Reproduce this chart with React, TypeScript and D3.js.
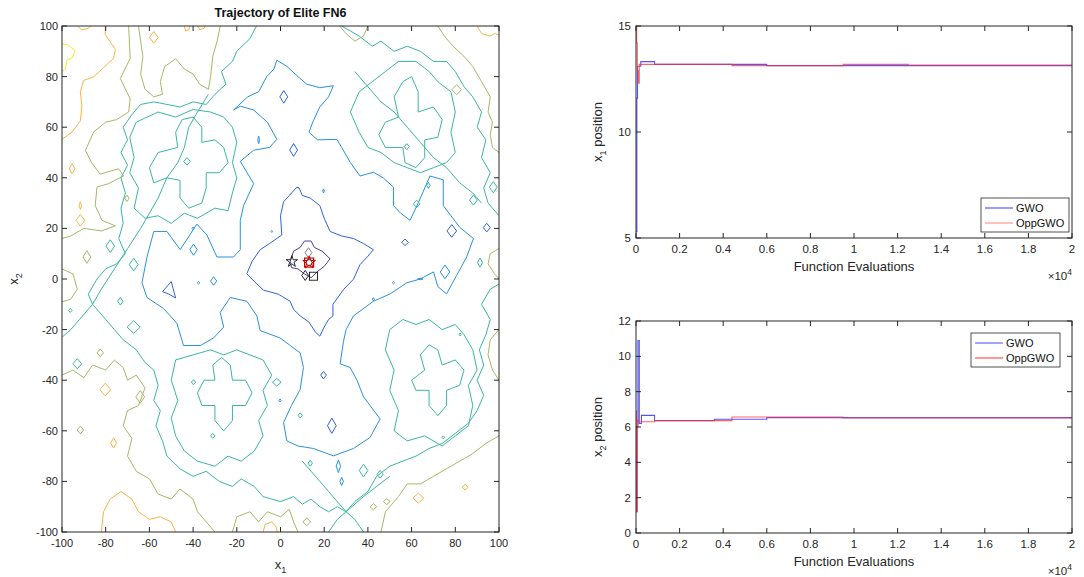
import React from "react";
import * as d3 from "d3";

const FONT = "'Liberation Sans', Arial, Helvetica, sans-serif";
const AX = "#262626";

// ---------- contour plot data (data coordinates) ----------
const contourTicks = [-100, -80, -60, -40, -20, 0, 20, 40, 60, 80, 100];
const levelColors = ["#4b3f9b", "#2f63da", "#2a91dc", "#3ab6a2", "#a5b866", "#f6b447", "#f2ee2b"];

type Pt = [number, number];
type Line = { closed: boolean; pts: Pt[] };
const loop = (cx: number, cy: number, rx: number, ry: number): Line => ({ closed: true, pts: [[cx - rx, cy], [cx, cy + ry], [cx + rx, cy], [cx, cy - ry]] });

const navyLines: Line[] = [
  { closed: true, pts: [[4.5, 7], [6, 11], [9, 12.5], [11, 15], [14, 15], [15.5, 12.5], [19, 11], [22.7, 8], [20, 5], [17, 3], [14, 0.5], [11, 2], [8, 4], [5, 4.5]] },
];
const blueLines: Line[] = [
  { closed: true, pts: [[7.5, 36.3], [4, 33], [1.4, 30.5], [0, 25], [0.6, 17.4], [-5, 14], [-9.3, 11.6], [-13, 7], [-15.4, 2.1], [-12, -1], [-7.8, -4.4], [-1, -6], [4.4, -8.8], [6, -12], [9, -14.6], [13, -17], [16, -21], [18, -22.6], [20, -19], [22, -16], [24, -14.6], [24, -10], [25, -8.8], [29, -4], [33.4, -0.1], [36.4, 5.7], [40, 9], [42.5, 11.6], [38, 14], [33.4, 16], [28, 17], [22.7, 18.8], [20, 24], [18, 29], [13.6, 32], [10, 33], [8.5, 36]] },
  loop(1.5, 72, 1.8, 2.5), loop(6, 51, 1.8, 2.5),
  { closed: true, pts: [[-54, -5], [-50, -1], [-48, -7.5], [-51, -6]] },
  loop(78.4, 19, 2.2, 2.5), loop(57, 14.5, 1.5, 1.3), loop(23.5, -58, 2, 3), loop(19.7, -38, 1.3, 1.5), loop(94.4, 20.3, 1.6, 1.7),
];
const lightBlueLines: Line[] = [
  { closed: true, pts: [[-21.5, 66.8], [-15, 72], [-10, 74], [-6.3, 80], [-3, 83], [-1.7, 86.5], [3, 84], [8, 80], [12, 77], [18, 75.6], [24.2, 76.4], [22, 72], [18, 68], [15, 62.5], [13, 58], [17, 55], [25.8, 55.2], [28, 52], [32, 46], [36.4, 40.7], [42.5, 42.2], [47, 40], [51.7, 36.3], [51.7, 29], [55, 26], [59.3, 23.2], [63, 30], [68.4, 40.7], [74.5, 39.2], [74.5, 29], [78, 25], [82.2, 20.3], [88.3, 16], [85.2, 8.7], [80.6, 1.4], [76, -5.9], [72, -3], [70, 2.8], [64, 0], [57.8, -1.5], [50.2, -5.9], [42.5, -8.8], [33.4, -14.6], [30, -20], [28.8, -24.8], [27.3, -33.5], [31.9, -35], [35, -40], [38, -46.6], [45.6, -55.3], [41, -62.6], [33.4, -67], [24.2, -69.9], [15.1, -67], [8, -66], [2.9, -64], [1.4, -56.8], [5, -50], [9, -43.7], [10.5, -35], [9, -29.2], [4, -26], [-0.2, -23.3], [-9.3, -20.4], [-10.8, -14.6], [-15.4, -8.8], [-23, -7.3], [-27.6, -13.2], [-26, -19], [-30.6, -23.3], [-36.7, -26.3], [-44.4, -26.3], [-47.4, -17.5], [-53.5, -11.7], [-61.1, -7.3], [-63.4, -1.5], [-61.1, 8.7], [-58, 18.8], [-52, 18.8], [-45.9, 11.6], [-38.3, 21.7], [-33.7, 17.4], [-29.1, 8.7], [-21.5, 8.7], [-18.4, 11.6], [-18.4, 23.2], [-16.9, 29], [-12.3, 37.7], [-18.4, 46.5], [-12.3, 50.9], [-5, 52], [-1.7, 55.2], [-6, 62], [-12.3, 66.8], [-18.4, 68.3]] },
  loop(-39.8, 11.6, 1.7, 2.2), loop(75.3, 2.8, 2.2, 2.7), loop(-30.6, -0.8, 1.4, 1.7),
  loop(26.5, -74, 1, 2.5), loop(28, -80, 0.8, 1.6), loop(-10, 55, 0.4, 1.5),
  loop(-37.5, -1.5, 0.6, 0.5), loop(-40, 20, 0.5, 0.5), loop(-4, 18.8, 0.4, 0.4), loop(19.7, 34.8, 0.4, 0.8),
  loop(51.7, -1.5, 0.5, 0.4), loop(42.5, -8, 0.5, 0.6), loop(64, 0, 1.2, 0.3), loop(-0.2, -48, 0.5, 0.6),
];
const tealLines: Line[] = [
  // outer ring
  { closed: false, pts: [[-11, 100], [-14, 95], [-20, 90], [-22, 86], [-27, 82], [-25, 77], [-30, 73], [-34, 69], [-40, 70], [-46, 68], [-52, 69], [-58, 70], [-64, 69], [-68, 65], [-72, 60], [-70, 55], [-73, 50], [-70, 45], [-73, 40], [-71, 34], [-73, 28], [-72, 22], [-74, 16], [-71, 10], [-75, 6], [-80, 4], [-84, 0], [-88, -6], [-86, -10], [-80, -16], [-76, -20], [-72, -24], [-66, -28], [-62, -33], [-58, -36], [-56, -42], [-58, -48], [-55, -52], [-57, -58], [-54, -64], [-52, -70], [-46, -75], [-40, -78], [-34, -76], [-28, -80], [-22, -82], [-18, -79], [-12, -82], [-8, -86], [0, -88], [6, -86], [10, -89], [14, -87], [18, -90], [22, -92], [26, -90], [30, -92], [34, -88], [40, -84], [44, -78], [50, -74], [56, -72], [62, -70], [68, -67], [74, -65], [80, -61], [86, -57], [90, -52], [93, -46], [90, -40], [93, -34], [91, -28], [94, -22], [96, -16], [92, -10], [96, -4], [100, -2]] },
  { closed: false, pts: [[100, 25], [95, 30], [93, 36], [96, 42], [92, 48], [94, 55], [90, 60], [92, 66], [88, 72], [84, 76], [80, 82], [76, 86], [70, 86], [64, 90], [58, 92], [52, 90], [46, 94], [42, 92], [36, 96], [32, 98], [28, 100]] },
  // diagonal crossing lines
  { closed: false, pts: [[-33, 73], [-38, 66], [-42, 60], [-44, 52], [-47, 46], [-52, 40], [-56, 32], [-60, 26], [-64, 20], [-70, 12], [-76, 4], [-82, -4], [-86, -10], [-92, -16], [-96, -20], [-100, -23]] },
  { closed: false, pts: [[10, -72], [14, -76], [18, -80], [22, -84], [26, -88], [30, -92], [34, -95], [38, -100]] },
  { closed: false, pts: [[50, -78], [44, -82], [38, -86], [30, -92], [26, -95], [22, -100]] },
  { closed: false, pts: [[34, 82], [40, 76], [46, 70], [52, 66], [58, 60], [64, 54], [70, 48], [76, 44], [82, 38], [88, 34], [92, 30]] },
  // top-left cells
  { closed: true, pts: [[-47, 52], [-48, 58], [-45, 63], [-40, 64], [-36, 60], [-36, 54], [-30, 55], [-26, 52], [-24, 46], [-28, 42], [-34, 42], [-34, 36], [-36, 30], [-42, 28], [-46, 32], [-46, 39], [-52, 40], [-58, 38], [-60, 44], [-56, 50]] },
  { closed: true, pts: [[-66, 62], [-69, 56], [-67, 48], [-69, 42], [-65, 36], [-67, 28], [-62, 24], [-56, 25], [-50, 22], [-44, 26], [-38, 24], [-30, 28], [-24, 27], [-22, 34], [-20, 40], [-22, 46], [-20, 54], [-22, 60], [-26, 64], [-32, 66], [-40, 67], [-48, 64], [-56, 66]] },
  // top-right cells
  { closed: true, pts: [[54, 64], [52, 72], [56, 78], [60, 80], [63, 74], [63, 66], [70, 68], [74, 63], [72, 56], [66, 55], [66, 48], [62, 44], [57, 46], [56, 52], [48, 52], [45, 57], [48, 62]] },
  { closed: true, pts: [[36, 58], [32, 66], [36, 74], [42, 78], [48, 82], [54, 86], [62, 86], [68, 82], [72, 78], [78, 74], [80, 66], [78, 58], [80, 50], [76, 46], [70, 44], [64, 42], [58, 44], [52, 46], [46, 50], [40, 52]] },
  // bottom-left cells
  { closed: true, pts: [[-30, -40], [-31, -34], [-27, -31], [-23, -34], [-22, -40], [-16, -40], [-13, -45], [-16, -50], [-22, -50], [-22, -56], [-26, -60], [-30, -56], [-30, -50], [-36, -50], [-38, -45], [-35, -40]] },
  { closed: true, pts: [[-48, -32], [-50, -40], [-47, -48], [-50, -55], [-48, -62], [-44, -68], [-38, -72], [-30, -74], [-24, -70], [-18, -72], [-12, -68], [-8, -62], [-10, -56], [-6, -50], [-8, -44], [-4, -38], [-8, -32], [-14, -30], [-20, -28], [-26, -30], [-32, -28], [-40, -30]] },
  // bottom-right cells
  { closed: true, pts: [[66, -36], [64, -30], [68, -26], [72, -28], [74, -34], [80, -32], [84, -36], [82, -42], [76, -44], [76, -50], [72, -54], [68, -50], [68, -44], [62, -44], [60, -40]] },
  { closed: true, pts: [[50, -20], [48, -28], [52, -36], [50, -44], [54, -52], [52, -60], [58, -64], [66, -62], [74, -66], [80, -62], [86, -58], [88, -50], [86, -42], [90, -36], [88, -28], [84, -22], [80, -18], [74, -20], [68, -16], [62, -18], [56, -16]] },
  // small islands
  loop(-42.8, 46.5, 1.5, 1.5), loop(57.8, 52.3, 1.2, 1.2), loop(62.3, 29.7, 1.5, 1.5), loop(67.7, 37, 0.8, 1.2),
  loop(88.3, 31.2, 1.8, 2), loop(91.3, 6.5, 1.2, 1.8), loop(97.4, 36.3, 1.8, 2.2), loop(82.2, -21.9, 0.5, 0.6),
  loop(74.5, -62.6, 0.6, 0.6), loop(13.6, -72.8, 1, 1.2), loop(38, -75.7, 2, 2.5), loop(45.6, -77.2, 1.5, 1.5),
  loop(-39.8, -40.8, 1, 1), loop(-1.7, -40.8, 2, 1.5), loop(9, -53.9, 1, 1), loop(-67.2, 5.7, 2, 2.5),
  loop(-77.9, 13, 2, 2.5), loop(-73.3, -8.8, 1.2, 1.5), loop(-93, -33.5, 2, 2), loop(-96.2, -12.4, 0.8, 0.8),
  loop(-67.2, -19, 3, 2.5), loop(-31, -62, 1, 1),
];
const oliveLines: Line[] = [
  { closed: false, pts: [[-69.5, 100], [-68.8, 87.2], [-73.3, 79.2], [-68.8, 71.2], [-69.5, 66], [-75, 63], [-80, 62], [-85.5, 58.1], [-89.3, 50.8], [-86.3, 45.8], [-82.5, 41.4], [-74.1, 43.6], [-71.8, 40.7], [-78.7, 37.7], [-84, 36.3], [-84.8, 29], [-81.7, 23.2], [-75.6, 21], [-82, 19], [-90, 20], [-96, 17], [-100, 16]] },
  { closed: false, pts: [[-27.6, 100], [-29, 94], [-31, 88], [-32, 80], [-33, 75], [-37, 77], [-40, 81], [-44, 83], [-48, 87], [-53, 84], [-55, 78], [-54, 73], [-58, 72], [-62, 75], [-64, 81], [-63, 88], [-64, 94], [-65, 100]] },
  { closed: false, pts: [[-100, -38], [-95, -36], [-90, -39], [-86, -34], [-80, -36], [-76, -32], [-72, -35], [-70, -40], [-66, -38], [-62, -43], [-65, -50], [-70, -52], [-72, -58], [-68, -63], [-70, -70], [-66, -76], [-60, -79], [-56, -85], [-50, -87], [-46, -83], [-40, -87], [-38, -92], [-34, -96], [-30, -100]] },
  { closed: false, pts: [[-22, -100], [-20, -94], [-14, -92], [-10, -96], [-6, -92], [0, -94], [4, -91], [6, -96], [8, -100]] },
  { closed: false, pts: [[46, -100], [48, -92], [54, -86], [58, -81], [64, -81], [70, -78], [76, -75], [82, -72], [88, -69], [94, -65], [100, -62]] },
  { closed: false, pts: [[100, -20], [96, -24], [95, -30], [97, -36], [100, -40]] },
  { closed: false, pts: [[100, 12], [96, 10], [95, 6], [98, 2], [100, 0]] },
  { closed: false, pts: [[100, 50], [97, 52], [96, 57], [97, 62], [95, 66], [96, 72], [92, 78], [88, 84], [84, 88], [79, 92], [75, 96], [72, 100]] },
  { closed: false, pts: [[40, 100], [38, 96], [34, 94], [30, 97], [27, 100]] },
  { closed: false, pts: [[-100, 4], [-95, 2], [-93, -4], [-96, -8], [-100, -9]] },
  loop(-88.6, 8.7, 1.8, 2.5), loop(-91.6, -59.7, 1.5, 1.5), loop(-82.5, -29.2, 1.5, 1.5), loop(-64.2, -46.6, 2, 2.5),
  loop(-70.3, 31.9, 1, 1.3), loop(80.6, 74.8, 2.2, 2), loop(12, -96, 1.8, 1.5), loop(42.5, -90, 1.5, 1.2), loop(48.6, -88, 1.5, 1.2),
];
const orangeLines: Line[] = [
  { closed: false, pts: [[-80.2, 100], [-80.2, 96.6], [-75.6, 90.8], [-76.4, 87.2], [-85.5, 79.9], [-90.1, 78.5], [-91.6, 74.1], [-90.9, 68.3], [-91.6, 62.5], [-95.4, 58.1], [-100, 55.2]] },
  { closed: false, pts: [[-93, 100], [-91, 98.5], [-88, 99], [-87, 100]] },
  loop(-58, 95.5, 2, 2.3), loop(-95.4, 43.6, 1.3, 2), loop(-91.6, 29, 0.6, 1.5), loop(-91.6, 23.2, 2, 2.3),
  loop(-80.2, -43.7, 2.5, 2.5), loop(-76.4, -64.8, 1.3, 2), loop(63.1, -86.6, 2.5, 2), loop(84.5, -82.3, 1.3, 1.2),
  { closed: false, pts: [[-44, 100], [-43.5, 98], [-42, 98.5], [-41.5, 100]] },
  { closed: false, pts: [[-38, 100], [-37, 98.5], [-35, 99], [-34.5, 100]] },
  { closed: false, pts: [[-82, -100], [-81, -92], [-78, -87], [-73, -84], [-68, -87], [-65, -92], [-60, -95], [-55, -94], [-50, -96], [-48, -100]] },
  { closed: false, pts: [[-8, -100], [-7, -97], [-4, -96], [-2, -98], [-1.5, -100]] },
  { closed: false, pts: [[90, 100], [92, 97], [96, 96], [98, 97], [100, 96.5]] },
];
const yellowLines: Line[] = [
  { closed: false, pts: [[-100, 93], [-97, 92.4], [-94, 90.2], [-95.4, 87.3], [-97.7, 86.6], [-98.5, 82.9], [-100, 82]] },
];
const contourGroups: Line[][] = [navyLines, blueLines, lightBlueLines, tealLines, oliveLines, orangeLines, yellowLines];

// elite trajectory markers
const squareMarkers: Pt[] = [[15.1, 1.1]];
const diamondMarkers: Pt[] = [[11.3, 1.4]];
const grayDiamondMarkers: Pt[] = [[12.8, 10.4]];
const hexMarkers: Pt[] = [[5.2, 6.9]];
const bestMarker: Pt = [13.1, 6.5];

// ---------- convergence curves ----------
const evalTicks = [0, 2000, 4000, 6000, 8000, 10000, 12000, 14000, 16000, 18000, 20000];
const x1Ticks = [5, 10, 15];
const x2Ticks = [0, 2, 4, 6, 8, 10, 12];

const gwoX1Evals = [0, 40, 70, 220, 850, 6000, 20000];
const gwoX1Values = [5.3, 11.6, 13.1, 13.32, 13.19, 13.13, 13.13];
const oppX1Evals = [0, 30, 60, 100, 150, 4400, 9500, 12500, 20000];
const oppX1Values = [15, 14.2, 12.9, 12.3, 13.19, 13.13, 13.19, 13.16, 13.16];

const gwoX2Evals = [0, 40, 90, 150, 250, 850, 3600, 6000, 20000];
const gwoX2Values = [1.2, 6.0, 10.9, 6.2, 6.66, 6.36, 6.44, 6.53, 6.53];
const oppX2Evals = [0, 30, 60, 90, 850, 4400, 9500, 20000];
const oppX2Values = [6.9, 1.2, 6.4, 6.3, 6.36, 6.57, 6.51, 6.51];

const GWO_COLOR = "#2a2aff";
const OPP_COLOR = "#ff3030";

function Frame({ x, y, w, h }: { x: number; y: number; w: number; h: number }) {
  return <rect x={x} y={y} width={w} height={h} fill="none" stroke={AX} strokeWidth={1} />;
}

function ContourPanel() {
  const L = 62, R = 499, T = 26, B = 532;
  const xs = d3.scaleLinear().domain([-100, 100]).range([L, R]);
  const ys = d3.scaleLinear().domain([-100, 100]).range([B, T]);
  const open = d3.line<Pt>().x((d) => xs(d[0])).y((d) => ys(d[1]));
  const closed = d3.line<Pt>().x((d) => xs(d[0])).y((d) => ys(d[1])).curve(d3.curveLinearClosed);
  const tl = 5;
  const dia = (p: Pt) => `M${xs(p[0])},${ys(p[1]) - 5}L${xs(p[0]) + 3.5},${ys(p[1])}L${xs(p[0])},${ys(p[1]) + 5}L${xs(p[0]) - 3.5},${ys(p[1])}Z`;
  return (
    <g>
      <defs>
        <clipPath id="cclip"><rect x={L} y={T} width={R - L} height={B - T} /></clipPath>
      </defs>
      <g clipPath="url(#cclip)">
        {contourGroups.map((grp, li) =>
          grp.map((ln, k) => (
            <path key={li + "-" + k} d={(ln.closed ? closed : open)(ln.pts) || ""} fill="none" stroke={levelColors[li]} strokeWidth={1} strokeLinejoin="round" />
          ))
        )}
        {squareMarkers.map((p, i) => (
          <rect key={"s" + i} x={xs(p[0]) - 4} y={ys(p[1]) - 4} width={8} height={8} fill="none" stroke="#111" strokeWidth={0.9} />
        ))}
        {diamondMarkers.map((p, i) => (
          <path key={"d" + i} d={dia(p)} fill="none" stroke="#111" strokeWidth={0.9} />
        ))}
        {grayDiamondMarkers.map((p, i) => (
          <path key={"g" + i} d={dia(p)} fill="none" stroke="#777" strokeWidth={0.9} />
        ))}
        {hexMarkers.map((p, i) => (
          <path key={"h" + i} d={d3.symbol(d3.symbolStar, 40)() || ""} transform={`translate(${xs(p[0])},${ys(p[1])})`} fill="none" stroke="#111" strokeWidth={0.9} />
        ))}
        <rect x={xs(bestMarker[0]) - 4.5} y={ys(bestMarker[1]) - 4.5} width={9} height={9} fill="none" stroke="#d00000" strokeWidth={1.2} />
        <circle cx={xs(bestMarker[0])} cy={ys(bestMarker[1])} r={3} fill="none" stroke="#111" strokeWidth={0.9} />
        <path d={d3.symbol(d3.symbolStar, 50)() || ""} transform={`translate(${xs(bestMarker[0])},${ys(bestMarker[1])})`} fill="none" stroke="#d00000" strokeWidth={1} />
      </g>
      <Frame x={L} y={T} w={R - L} h={B - T} />
      {contourTicks.map((t) => (
        <g key={"xt" + t}>
          <line x1={xs(t)} x2={xs(t)} y1={B} y2={B - tl} stroke={AX} />
          <line x1={xs(t)} x2={xs(t)} y1={T} y2={T + tl} stroke={AX} />
          <text x={xs(t)} y={B + 15} textAnchor="middle" fontSize={11} fill={AX} fontFamily={FONT}>{t}</text>
        </g>
      ))}
      {contourTicks.map((t) => (
        <g key={"yt" + t}>
          <line x1={L} x2={L + tl} y1={ys(t)} y2={ys(t)} stroke={AX} />
          <line x1={R} x2={R - tl} y1={ys(t)} y2={ys(t)} stroke={AX} />
          <text x={L - 4} y={ys(t) + 4} textAnchor="end" fontSize={11} fill={AX} fontFamily={FONT}>{t}</text>
        </g>
      ))}
      <text x={(L + R) / 2} y={T - 9} textAnchor="middle" fontSize={12.5} fontWeight="bold" fill="#111" fontFamily={FONT}>Trajectory of Elite FN6</text>
      <text x={(L + R) / 2} y={B + 37} textAnchor="middle" fontSize={13} fill={AX} fontFamily={FONT}>x<tspan fontSize={9} dy={4}>1</tspan></text>
      <text transform={`translate(${L - 44},${(T + B) / 2}) rotate(-90)`} textAnchor="middle" fontSize={13} fill={AX} fontFamily={FONT}>x<tspan fontSize={9} dy={4}>2</tspan></text>
    </g>
  );
}

function ConvPanel({ T, B, yDomain, yTicks, label, gwo, opp, legend, gwoCol, oppCol }: any) {
  const L = 636, R = 1072;
  const xs = d3.scaleLinear().domain([0, 20000]).range([L, R]);
  const ys = d3.scaleLinear().domain(yDomain).range([B, T]);
  const line = d3.line<[number, number]>().x((d) => xs(d[0])).y((d) => ys(d[1])).curve(d3.curveStepAfter);
  const tl = 5;
  const id = "clip" + T;
  return (
    <g>
      <defs>
        <clipPath id={id}><rect x={L} y={T} width={R - L} height={B - T} /></clipPath>
      </defs>
      <g clipPath={`url(#${id})`}>
        <path d={line(gwo) || ""} fill="none" stroke={GWO_COLOR} strokeOpacity={0.8} strokeWidth={1.1} />
        <path d={line(opp) || ""} fill="none" stroke={OPP_COLOR} strokeOpacity={0.75} strokeWidth={1.1} />
      </g>
      <Frame x={L} y={T} w={R - L} h={B - T} />
      {evalTicks.map((t) => (
        <g key={"x" + t}>
          <line x1={xs(t)} x2={xs(t)} y1={B} y2={B - tl} stroke={AX} />
          <line x1={xs(t)} x2={xs(t)} y1={T} y2={T + tl} stroke={AX} />
          <text x={xs(t)} y={B + 15} textAnchor="middle" fontSize={11.5} fill={AX} fontFamily={FONT}>{String(+(t / 10000).toFixed(1))}</text>
        </g>
      ))}
      {yTicks.map((t: number) => (
        <g key={"y" + t}>
          <line x1={L} x2={L + tl} y1={ys(t)} y2={ys(t)} stroke={AX} />
          <line x1={R} x2={R - tl} y1={ys(t)} y2={ys(t)} stroke={AX} />
          <text x={L - 5} y={ys(t) + 4} textAnchor="end" fontSize={11.5} fill={AX} fontFamily={FONT}>{t}</text>
        </g>
      ))}
      <text x={(L + R) / 2} y={B + 33} textAnchor="middle" fontSize={13} fill={AX} fontFamily={FONT}>Function Evaluations</text>
      <text x={R} y={B + 42} textAnchor="end" fontSize={11.5} fill={AX} fontFamily={FONT}>×10<tspan fontSize={8.5} dy={-5}>4</tspan></text>
      <text transform={`translate(${L - 34},${(T + B) / 2}) rotate(-90)`} textAnchor="middle" fontSize={13} fill={AX} fontFamily={FONT}>x<tspan fontSize={9} dy={4}>{label}</tspan><tspan dy={-4}> position</tspan></text>
      <g>
        <rect x={legend.x} y={legend.y} width={legend.w} height={34} fill="#fff" stroke={AX} strokeWidth={0.8} />
        <line x1={legend.x + 4} x2={legend.x + 32} y1={legend.y + 10} y2={legend.y + 10} stroke={gwoCol} strokeWidth={1} />
        <text x={legend.x + 35} y={legend.y + 14} fontSize={11} fill="#111" fontFamily={FONT}>GWO</text>
        <line x1={legend.x + 4} x2={legend.x + 32} y1={legend.y + 25} y2={legend.y + 25} stroke={oppCol} strokeWidth={1} />
        <text x={legend.x + 35} y={legend.y + 29} fontSize={11} fill="#111" fontFamily={FONT}>OppGWO</text>
      </g>
    </g>
  );
}

const zip = (a: number[], b: number[]): [number, number][] => a.map((v, i) => [v, b[i]]);

export default function App() {
  return (
    <svg width={1084} height={577} style={{ position: "absolute", left: 0, top: 0, background: "#fff" }}>
      <rect width={1084} height={577} fill="#fff" />
      <ContourPanel />
      <ConvPanel T={26} B={238} yDomain={[5, 15]} yTicks={x1Ticks} label="1"
        gwo={zip(gwoX1Evals, gwoX1Values)} opp={zip(oppX1Evals, oppX1Values)}
        legend={{ x: 981, y: 198, w: 88 }} gwoCol="#3a3aff" oppCol="#ff8080" />
      <ConvPanel T={321} B={533} yDomain={[0, 12]} yTicks={x2Ticks} label="2"
        gwo={zip(gwoX2Evals, gwoX2Values)} opp={zip(oppX2Evals, oppX2Values)}
        legend={{ x: 971, y: 333, w: 89 }} gwoCol="#4a4aff" oppCol="#ff3030" />
    </svg>
  );
}
